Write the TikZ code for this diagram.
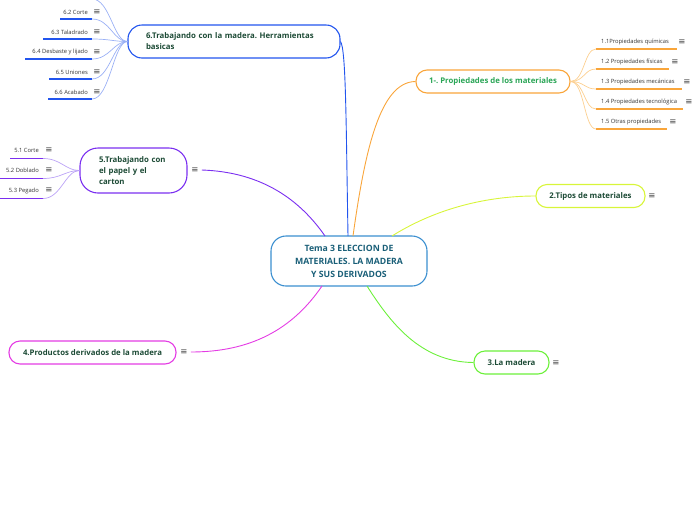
\documentclass[tikz,border=0pt]{standalone}
\usepackage{fontspec}
\setmainfont{Open Sans}
\newfontfamily\dejavu{DejaVu Sans}
\frenchspacing
\definecolor{tdark}{HTML}{1C4A35}
\definecolor{tcentral}{HTML}{1A5F78}
\definecolor{tgreen}{HTML}{2AA556}
\definecolor{tsub}{HTML}{333333}
\definecolor{icongray}{HTML}{444444}
\definecolor{cblue}{HTML}{3B8FD0}
\definecolor{corange}{HTML}{F9A53A}
\definecolor{corangel}{HTML}{FCCF90}
\definecolor{cyell}{HTML}{D8F53A}
\definecolor{cgreen}{HTML}{6CF03A}
\definecolor{cmag}{HTML}{E43CE4}
\definecolor{cpurp}{HTML}{7B2FF0}
\definecolor{cpurpl}{HTML}{BBA2F6}
\definecolor{cbl}{HTML}{2255EE}
\definecolor{cbll}{HTML}{9AB0F5}
\begin{document}
\begin{tikzpicture}[x=1pt,y=-1pt,
  mainbox/.style={draw, line width=1.1pt, rounded corners=11pt, inner sep=0pt,
    font=\bfseries\fontsize{7.8}{11}\selectfont, text=tdark, minimum height=23pt},
  subtxt/.style={inner sep=0pt, font=\fontsize{5.8}{7}\selectfont, text=tsub},
  icon/.style={inner sep=0pt, font=\dejavu\fontsize{8.5}{9}\selectfont, text=icongray},
  uline/.style={line width=1.3pt},
  link/.style={line width=0.9pt},
  sublink/.style={line width=0.7pt}]
\useasboundingbox (0,0) rectangle (696,520);
\clip (0,0) rectangle (696,520);

% central
\node[draw=cblue, line width=1.1pt, rounded corners=15pt, minimum width=156pt, minimum height=50pt,
  align=center, inner sep=0pt, text=tcentral, font=\bfseries\fontsize{8.7}{13}\selectfont]
  (c) at (349,261) {Tema 3 ELECCION DE\\MATERIALES. LA MADERA\\Y SUS DERIVADOS};

% main nodes
\node[mainbox, draw=corange, text=tgreen, minimum width=154pt] (n1) at (493,81.5) {1-. Propiedades de los materiales};
\node[mainbox, draw=cyell, minimum width=109pt] (n2) at (590.5,196) {2.Tipos de materiales};
\node[mainbox, draw=cgreen, minimum width=75pt] (n3) at (511.5,362.5) {3.La madera};
\node[mainbox, draw=cmag, minimum width=167pt] (n4) at (92.5,352.5) {4.Productos derivados de la madera};
\node[mainbox, draw=cpurp, rounded corners=18pt, minimum width=107pt, minimum height=45pt,
  text width=69pt, align=left, inner xsep=19pt] (n5) at (133.5,170.5) {5.Trabajando con\\el papel y el\\carton};
\node[mainbox, draw=cbl, rounded corners=14pt, minimum width=212pt, minimum height=33pt,
  text width=176pt, align=left, inner xsep=18pt] (n6) at (234,41.5) {6.Trabajando con la madera. Herramientas\\basicas};

% icons of main nodes
\node[icon] (i2) at (652,196) {≡};
\node[icon] (i3) at (556,363) {≡};
\node[icon] (i4) at (184,352) {≡};
\node[icon] (i5) at (195,170) {≡};

% main links
\coordinate (c6) at (348,236);
\coordinate (c1) at (353,236);
\coordinate (c2) at (392,236);
\coordinate (c3) at (367,286);
\coordinate (c4) at (322,286);
\coordinate (c5) at (325,236);
\draw[link, draw=cbl] (c6) .. controls (346,120) and (346,50) .. (n6.east);
\draw[link, draw=corange] (c1) .. controls (365,150) and (380,82) .. (n1.west);
\draw[link, draw=cyell] (c2) .. controls (430,212) and (480,196) .. (n2.west);
\draw[link, draw=cgreen] (c3) .. controls (390,322) and (420,362) .. (n3.west);
\draw[link, draw=cmag] (c4) .. controls (292,330) and (250,352) .. ([xshift=3pt]i4.east);
\draw[link, draw=cpurp] ([xshift=3pt]i5.east) .. controls (262,172) and (300,200) .. (c5);

% subs of node 1
\foreach \k/\t/\y/\e/\ix in {
  11/1.1Propiedades químicas/42/677/682,
  12/1.2 Propiedades físicas/62/669/675,
  13/1.3 Propiedades mecánicas/82/682/687,
  14/1.4 Propiedades tecnológica/102/683/689,
  15/1.5 Otras propiedades/122/667/673}{
  \node[subtxt, anchor=west] (s\k) at (601,\y) {\t};
  \node[icon] (i\k) at (\ix,\y) {≡};
  \coordinate (a\k) at (596,\y+7);
  \coordinate (b\k) at (\e,\y+7);
  \draw[uline, draw=corange] (a\k) -- (b\k);
  \draw[sublink, draw=corangel] (n1.east) .. controls +(14,0) and +(-12,0) .. (a\k);
}

% subs of node 6
\foreach \k/\t/\y/\s in {
  62/6.2 Corte/12/60,
  63/6.3 Taladrado/32/43,
  64/6.4 Desbaste y lijado/52/25,
  65/6.5 Uniones/72/49,
  66/6.6 Acabado/92/48}{
  \node[subtxt, anchor=east] (s\k) at (88,\y) {\t};
  \node[icon] (i\k) at (97,\y) {≡};
  \coordinate (a\k) at (\s,\y+7);
  \coordinate (b\k) at (92,\y+7);
  \draw[uline, draw=cbl] (a\k) -- (b\k);
  \draw[sublink, draw=cbll] (b\k) .. controls +(18,0) and +(-14,0) .. (n6.west);
}
\coordinate (b61) at (92,-1);
\draw[uline, draw=cbl] (60,-1) -- (b61);
\draw[sublink, draw=cbll] (b61) .. controls +(18,0) and +(-14,0) .. (n6.west);

% subs of node 5
\foreach \k/\t/\y/\s in {
  51/5.1 Corte/150.5/10,
  52/5.2 Doblado/170.5/0,
  53/5.3 Pegado/190.5/0}{
  \node[subtxt, anchor=east] (s\k) at (39,\y) {\t};
  \node[icon] (i\k) at (49,\y) {≡};
  \coordinate (a\k) at (\s,\y+8);
  \coordinate (b\k) at (43,\y+8);
  \draw[uline, draw=cpurp] (a\k) -- (b\k);
  \draw[sublink, draw=cpurpl] (b\k) .. controls +(18,0) and +(-14,0) .. (n5.west);
}
\end{tikzpicture}
\end{document}
